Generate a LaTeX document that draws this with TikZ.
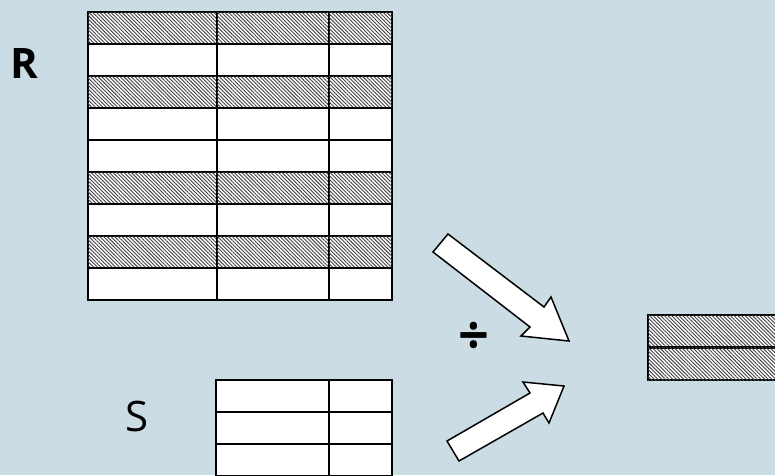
\documentclass[tikz,border=0pt]{standalone}
\usepackage{fontspec}
\setmainfont{Open Sans}
\usetikzlibrary{patterns.meta}
\definecolor{bgc}{RGB}{204,220,229}
\tikzset{
  cellw/.style={draw=black, line width=2.4pt, fill=white},
  cellh/.style={draw=black, line width=2.4pt, fill=white,
     postaction={pattern={Lines[angle=-45,distance=2.6pt,line width=0.9pt]}, pattern color=black!75}},
  bigarrow/.style={draw=black, line width=1.5pt, fill=white, line join=miter},
  lbl/.style={inner sep=0pt, font=\fontsize{42}{42}\selectfont}
}
\begin{document}
\begin{tikzpicture}[x=1pt,y=-1pt]
\fill[bgc] (0,0) rectangle (775,475);
\useasboundingbox (0,0) rectangle (775,475);
\clip (0,0) rectangle (775,475);
% table R
\foreach \r/\s in {0/cellh,1/cellw,2/cellh,3/cellw,4/cellw,5/cellh,6/cellw,7/cellh,8/cellw}{
  \pgfmathsetmacro{\ya}{12+32*\r}
  \pgfmathsetmacro{\yb}{44+32*\r}
  \path[\s] (88,\ya) rectangle (217,\yb);
  \path[\s] (217,\ya) rectangle (329,\yb);
  \path[\s] (329,\ya) rectangle (392,\yb);
}
% table S
\foreach \r in {0,1,2}{
  \pgfmathsetmacro{\ya}{380+32*\r}
  \pgfmathsetmacro{\yb}{412+32*\r}
  \path[cellw] (216,\ya) rectangle (329,\yb);
  \path[cellw] (329,\ya) rectangle (392,\yb);
}
% result table
\path[cellh] (648,315) rectangle (800,347.5);
\path[cellh] (648,347.5) rectangle (800,380);
% labels
\node[lbl, font=\fontsize{42}{42}\selectfont\bfseries] (R) at (24,63.5) {R};
\node[lbl] (S) at (137,416.5) {S};
\node[inner sep=0pt, font=\fontsize{54}{54}\selectfont\bfseries] (div) at (474,338) {÷};
% arrows
\draw[bigarrow] (448,234) -- (544,307) -- (551,297) -- (569,341) -- (521,336) -- (530,327) -- (433,252) -- cycle;
\draw[bigarrow] (447,441) -- (530,393) -- (523,382) -- (564,386) -- (549,423) -- (543,413) -- (459,461) -- cycle;
\end{tikzpicture}
\end{document}
